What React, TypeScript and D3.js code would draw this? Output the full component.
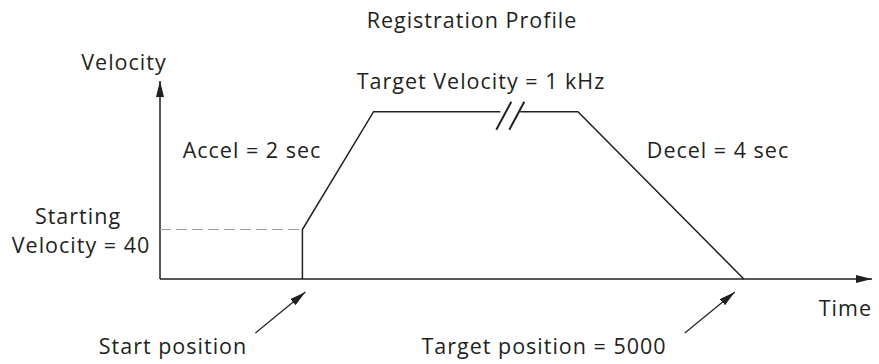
import React from 'react';
import * as d3 from 'd3';

// schematic units: time 0..100 across the axis, velocity 0..100 up the axis
const rampUpTime = [20, 20, 30, 47.8];
const rampUpVelocity = [0, 25, 84.5, 84.5];
const rampDownTime = [50.6, 58.7, 82];
const rampDownVelocity = [84.5, 84.5, 0];
const startVelocityTime = [0, 20];
const startVelocityValue = 25;
const startPosition = 20;
const targetPosition = 82;
const breakTime = 49.2;
const targetVelocity = 84.5;

const labels = {
  title: 'Registration Profile',
  yAxis: 'Velocity',
  xAxis: 'Time',
  target: 'Target Velocity = 1 kHz',
  accel: 'Accel = 2 sec',
  decel: 'Decel = 4 sec',
  startVel: ['Starting', 'Velocity = 40'],
  startPos: 'Start position',
  targetPos: 'Target position = 5000',
};

const width = 879;
const height = 364;
const ink = '#231f20';
const font = '"Open Sans", sans-serif';

const App = () => {
  const x = d3.scaleLinear().domain([0, 100]).range([160, 872]);
  const y = d3.scaleLinear().domain([0, 100]).range([279, 81]);

  const line = d3
    .line<[number, number]>()
    .x((d) => x(d[0]))
    .y((d) => y(d[1]));

  const upPts = rampUpTime.map((t, i) => [t, rampUpVelocity[i]] as [number, number]);
  const downPts = rampDownTime.map((t, i) => [t, rampDownVelocity[i]] as [number, number]);
  const dashPts = startVelocityTime.map((t) => [t, startVelocityValue] as [number, number]);

  const bx = x(breakTime);
  const by = y(targetVelocity) + 4;

  const textStyle = {
    fontFamily: font,
    fontSize: 21.5,
    letterSpacing: 1,
    fill: ink,
  };

  return (
    <svg width={width} height={height} style={{ position: 'absolute', left: 0, top: 0 }}>
      <defs>
        <marker
          id="head"
          viewBox="0 0 16 8"
          refX={16}
          refY={4}
          markerWidth={16}
          markerHeight={8}
          markerUnits="userSpaceOnUse"
          orient="auto"
        >
          <path d="M0,0 L16,4 L0,8 Z" fill={ink} />
        </marker>
      </defs>

      {/* axes */}
      <line x1={x(0)} y1={y(0)} x2={x(0)} y2={y(100)} stroke={ink} strokeWidth={1.5} markerEnd="url(#head)" />
      <line x1={x(0)} y1={y(0)} x2={x(100)} y2={y(0)} stroke={ink} strokeWidth={1.5} markerEnd="url(#head)" />

      {/* starting velocity dashed guide */}
      <path d={line(dashPts) || ''} fill="none" stroke="#9a9a9a" strokeWidth={1.2} strokeDasharray="11,5" />

      {/* velocity profile */}
      <path d={line(upPts) || ''} fill="none" stroke={ink} strokeWidth={1.5} />
      <path d={line(downPts) || ''} fill="none" stroke={ink} strokeWidth={1.5} />

      {/* break marks */}
      <line x1={bx - 14} y1={by + 14} x2={bx + 1} y2={by - 14} stroke={ink} strokeWidth={2} />
      <line x1={bx - 1} y1={by + 14} x2={bx + 14} y2={by - 14} stroke={ink} strokeWidth={2} />

      {/* pointer arrows */}
      <line
        x1={x(startPosition) - 47}
        y1={y(0) + 54}
        x2={x(startPosition) + 3}
        y2={y(0) + 13}
        stroke={ink}
        strokeWidth={1.2}
        markerEnd="url(#head)"
      />
      <line
        x1={x(targetPosition) - 59}
        y1={y(0) + 54}
        x2={x(targetPosition) - 9}
        y2={y(0) + 13}
        stroke={ink}
        strokeWidth={1.2}
        markerEnd="url(#head)"
      />

      {/* texts */}
      <text x={472} y={28} textAnchor="middle" style={textStyle}>{labels.title}</text>
      <text x={124} y={70} textAnchor="middle" style={textStyle}>{labels.yAxis}</text>
      <text x={481} y={89} textAnchor="middle" style={textStyle}>{labels.target}</text>
      <text x={252} y={158} textAnchor="middle" style={textStyle}>{labels.accel}</text>
      <text x={718} y={158} textAnchor="middle" style={textStyle}>{labels.decel}</text>
      <text x={78} y={224} textAnchor="middle" style={textStyle}>{labels.startVel[0]}</text>
      <text x={81} y={253} textAnchor="middle" style={textStyle}>{labels.startVel[1]}</text>
      <text x={173} y={354} textAnchor="middle" style={textStyle}>{labels.startPos}</text>
      <text x={544} y={354} textAnchor="middle" style={textStyle}>{labels.targetPos}</text>
      <text x={872} y={316} textAnchor="end" style={textStyle}>{labels.xAxis}</text>
    </svg>
  );
};

export default App;
